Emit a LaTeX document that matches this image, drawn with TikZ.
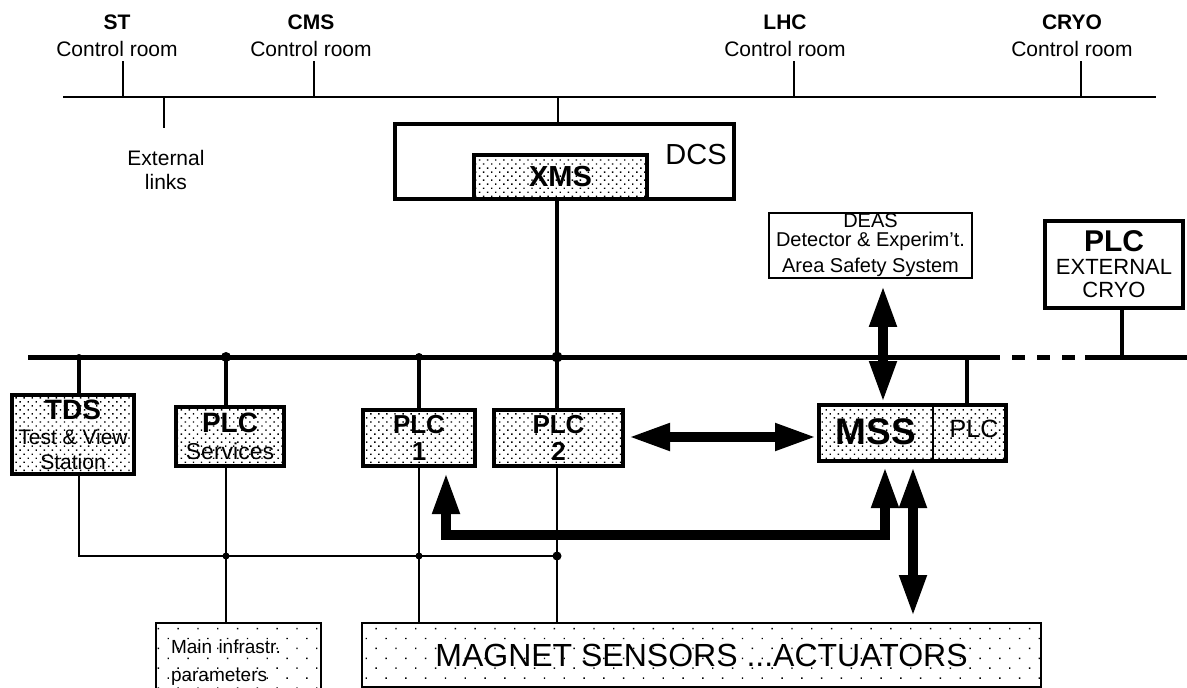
\documentclass[tikz,border=0pt]{standalone}
\usepackage{fontspec}
\setmainfont{Liberation Sans}
\usetikzlibrary{arrows.meta,patterns.meta,calc}
\newcommand{\fsz}[1]{\fontsize{#1}{#1}\selectfont}

\begin{document}
\begin{tikzpicture}[x=1pt,y=-1pt,
  every node/.style={inner sep=0pt,align=center,font=\fontsize{21}{24}\selectfont},
  room/.style={inner ysep=4pt,font=\fontsize{21}{27}\selectfont},
  blk/.style={draw,line width=4pt,pattern={Dots[distance=5.7pt,angle=45,radius=1pt]}},
  wbox/.style={draw,line width=4.5pt,fill=white},
  tbox/.style={draw,line width=1.8pt,fill=white},
  lbox/.style={draw,line width=2pt,pattern={Dots[distance=14pt,angle=45,radius=1pt]}},
  bus/.style={line width=5pt},
  stem/.style={line width=4pt},
  wire/.style={line width=2pt},
  dbl/.style={line width=10pt,<->,>={Triangle[length=42pt,width=25pt]}},
]
\useasboundingbox (0,0) rectangle (1187,688);
\clip (0,0) rectangle (1187,688);
\fill[white] (0,0) rectangle (1187,688);

%% Control rooms on the upper line
\coordinate (tl0) at (63,97);
\coordinate (tl1) at (1156,97);
\draw[wire] (tl0) -- (tl1);

\node[room] (st)   at (117,36)  {\textbf{ST}\\Control room};
\node[room] (cms)  at (311,36)  {\textbf{CMS}\\Control room};
\node[room] (lhc)  at (785,36)  {\textbf{LHC}\\Control room};
\node[room] (cryo) at (1072,36) {\textbf{CRYO}\\Control room};

\foreach \n/\x in {st/123,cms/314,lhc/794,cryo/1081}{
  \coordinate (t\n) at (\x,97);
  \draw[wire] (t\n) -- (t\n |- \n.south);
}

\node (ext) at (166,170) {External\\links};
\coordinate (tx) at (164,97);
\coordinate (extEnd) at (164,128);
\draw[wire] (tx) -- (extEnd);

%% DCS with XMS
\node[wbox,minimum width=339,minimum height=75] (dcs) at (564.5,161.5) {};
\node[font=\fsz{29}] (dcslbl) at (696,155) {DCS};
\node[blk,minimum width=173,minimum height=44,font=\bfseries\fsz{29}] (xms) at (560.5,177) {XMS};
\coordinate (tdcs) at (558,97);
\draw[wire] (tdcs) -- (tdcs |- dcs.north);

%% Main bus
\coordinate (b0) at (28,357);
\coordinate (b1) at (1000,357);
\coordinate (b2) at (1012,357);
\coordinate (b3) at (1076,357);
\coordinate (b4) at (1085,357);
\coordinate (b5) at (1187,357);
\draw[bus] (b0) -- (b1);
\draw[bus,dash pattern=on 13pt off 12pt] (b2) -- (b3);
\draw[bus] (b4) -- (b5);

\coordinate (ttds)  at (79,357);
\coordinate (tplcs) at (226,357);
\coordinate (tplc1) at (419,357);
\coordinate (tplc2) at (557,357);
\coordinate (tmss)  at (967,357);
\coordinate (tpext) at (1122,357);

%% Boxes on the bus
\node[blk,minimum width=122,minimum height=79,font=\fontsize{21}{25}\selectfont] (tds) at (73,434.5)
  {{\bfseries\fsz{28}TDS}\\Test \& View\\Station};
\node[blk,minimum width=108,minimum height=59,font=\fontsize{23}{27}\selectfont] (plcs) at (230,436.5)
  {{\bfseries\fsz{28}PLC}\\Services};
\node[blk,minimum width=112,minimum height=56,font=\bfseries\fontsize{26}{27}\selectfont] (plc1) at (419,438) {PLC\\1};
\node[blk,minimum width=129,minimum height=56,font=\bfseries\fontsize{26}{27}\selectfont] (plc2) at (558.5,438) {PLC\\2};

\node[blk,minimum width=187,minimum height=56] (mss) at (912.5,433) {};
\node[font=\bfseries\fsz{37}] (msstxt) at (876,432) {MSS};
\node[font=\fsz{25}] (mssplc) at (974,429) {PLC};
\draw[line width=2.5pt] (mss.north -| 933,0) -- (mss.south -| 933,0);

\node[tbox,minimum width=203,minimum height=65,font=\fontsize{20}{19}\selectfont] (deas) at (870.5,245.5)
  {DEAS\\Detector \& Experim't.\\[7pt]Area Safety System};
\node[wbox,minimum width=138,minimum height=87,font=\fontsize{22}{23}\selectfont] (pext) at (1114,264.5)
  {{\bfseries\fsz{30}PLC}\\EXTERNAL\\CRYO};

\draw[stem] (ttds) -- (ttds |- tds.north);
\draw[stem] (tplcs) -- (tplcs |- plcs.north);
\draw[stem] (tplc1) -- (tplc1 |- plc1.north);
\draw[stem] (tplc2 |- xms.south) -- (tplc2 |- plc2.north);
\draw[stem] (tmss) -- (tmss |- mss.north);
\draw[stem] (tpext) -- (tpext |- pext.south);

\fill (ttds)  circle[radius=3];
\fill (tplcs) circle[radius=5];
\fill (tplc1) circle[radius=4];
\fill (tplc2) circle[radius=5.5];

%% Field level
\node[lbox,minimum width=165,minimum height=80,text width=135,align=left,font=\fontsize{19}{28}\selectfont] (mainp) at (238.5,663)
  {Main infrastr.\\parameters};
\node[lbox,minimum width=679,minimum height=64,font=\fsz{32}] (mag) at (701.5,655)
  {MAGNET SENSORS ...ACTUATORS};

\coordinate (jl) at (79,556);
\coordinate (jr) at (557,556);
\draw[wire] (ttds |- tds.south) -- (jl) -- (jr);
\draw[wire] (tplcs |- plcs.south) -- (tplcs |- mainp.north);
\draw[wire] (tplc1 |- plc1.south) -- (tplc1 |- mag.north);
\draw[wire] (tplc2 |- plc2.south) -- (tplc2 |- mag.north);
\fill (tplcs |- jl) circle[radius=3.5];
\fill (tplc1 |- jl) circle[radius=3.5];
\fill (jr) circle[radius=4.5];

%% Thick links
\coordinate (ax1) at (883,0);
\coordinate (ax2) at (885,0);
\coordinate (ax3) at (446,0);
\coordinate (ax4) at (913,0);
\coordinate (elb) at (0,535);
\draw[dbl] ($(ax1 |- deas.south)+(0,6)$) -- (ax1 |- mss.north);
\draw[dbl] ($(plc2.east)+(3,-1)$) -- ($(mss.west |- plc2.east)+(0,-1)$);
\draw[dbl] ($(ax2 |- mss.south)+(0,3)$) -- (ax2 |- elb) -- (ax3 |- elb) -- ($(ax3 |- plc1.south)+(0,4)$);
\draw[dbl] ($(ax4 |- mss.south)+(0,3)$) -- ($(ax4 |- mag.north)+(0,-5)$);

\end{tikzpicture}
\end{document}
